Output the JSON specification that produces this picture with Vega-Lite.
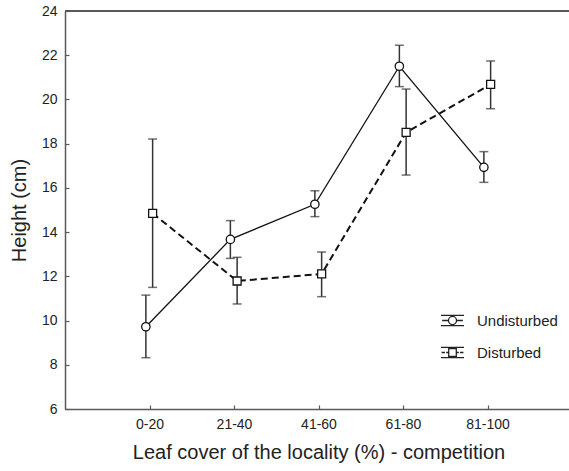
{
"$schema":"https://vega.github.io/schema/vega-lite/v6.json",
"width":504,"height":398,
"autosize":{"type":"none"},
"padding":{"left":65,"top":11,"right":0,"bottom":62},
"background":"white",
"config":{
 "view":{"stroke":null},
 "font":"Liberation Sans",
 "axis":{"grid":false,"domainColor":"#5a5a5a","domainWidth":1.5,"tickColor":"#5a5a5a","tickWidth":1.2,"labelColor":"#222","titleColor":"#222","labelFontSize":14,"titleFontSize":20,"titleFontWeight":"normal","labelFont":"Liberation Sans","titleFont":"Liberation Sans"},
 "legend":{"orient":"none","legendX":375,"legendY":297,"title":null,"symbolSize":530,"symbolStrokeColor":"#222","symbolStrokeWidth":1.3,"symbolOpacity":1,"labelFontSize":15,"labelOffset":12,"rowPadding":11,"padding":0,"labelColor":"#222","labelFont":"Liberation Sans"}
},
"data":{"values":[
 {"cat":"0-20","series":"Undisturbed","mean":9.72,"lo":8.32,"hi":11.15},
 {"cat":"21-40","series":"Undisturbed","mean":13.67,"lo":12.81,"hi":14.52},
 {"cat":"41-60","series":"Undisturbed","mean":15.26,"lo":14.70,"hi":15.87},
 {"cat":"61-80","series":"Undisturbed","mean":21.5,"lo":20.58,"hi":22.45},
 {"cat":"81-100","series":"Undisturbed","mean":16.93,"lo":16.25,"hi":17.64},
 {"cat":"0-20","series":"Disturbed","mean":14.85,"lo":11.5,"hi":18.21},
 {"cat":"21-40","series":"Disturbed","mean":11.79,"lo":10.75,"hi":12.86},
 {"cat":"41-60","series":"Disturbed","mean":12.11,"lo":11.08,"hi":13.1},
 {"cat":"61-80","series":"Disturbed","mean":18.51,"lo":16.58,"hi":20.47},
 {"cat":"81-100","series":"Disturbed","mean":20.68,"lo":19.58,"hi":21.74}
]},
"layer":[
 {"mark":{"type":"rule","color":"#5a5a5a","strokeWidth":1.5},
  "encoding":{"y":{"datum":24,"type":"quantitative"}}},
 {
  "encoding":{
   "x":{"field":"cat","type":"ordinal",
        "scale":{"type":"point","domain":["_a","0-20","21-40","41-60","61-80","81-100","_b"],"range":[0,507],"padding":0},
        "axis":{"values":["0-20","21-40","41-60","61-80","81-100"],"title":"Leaf cover of the locality (%) - competition","labelAngle":0,"tickSize":-4,"labelPadding":12,"titlePadding":11}},
   "xOffset":{"field":"series","type":"nominal","scale":{"domain":["Undisturbed","Disturbed"],"range":[-7,6.5]}}
  },
  "layer":[
   {"transform":[{"filter":"datum.series == 'Undisturbed'"}],
    "mark":{"type":"line","color":"#111","strokeWidth":1.3},
    "encoding":{"y":{"field":"mean","type":"quantitative","scale":{"domain":[6,24],"nice":false,"zero":false},
       "axis":{"values":[6,8,10,12,14,16,18,20,22,24],"title":"Height (cm)","tickSize":-4,"labelPadding":12,"titlePadding":12}}}},
   {"transform":[{"filter":"datum.series == 'Disturbed'"}],
    "mark":{"type":"line","color":"#111","strokeWidth":2,"strokeDash":[7,4]},
    "encoding":{"y":{"field":"mean","type":"quantitative"}}},
   {"mark":{"type":"rule","color":"#333","strokeWidth":1.5},
    "encoding":{"y":{"field":"lo","type":"quantitative"},"y2":{"field":"hi"}}},
   {"mark":{"type":"tick","color":"#333","thickness":1.5,"size":9},
    "encoding":{"y":{"field":"lo","type":"quantitative"}}},
   {"mark":{"type":"tick","color":"#333","thickness":1.5,"size":9},
    "encoding":{"y":{"field":"hi","type":"quantitative"}}},
   {"mark":{"type":"point","filled":false,"stroke":"#222","strokeWidth":1.3,"size":1},
    "encoding":{"y":{"field":"mean","type":"quantitative"},
      "shape":{"field":"series","type":"nominal","scale":{"domain":["Undisturbed","Disturbed"],
        "range":["M-1,-0.45H1M-1,0.45H1M-0.9,0H-0.35M0.35,0H0.9M0,-0.45V-0.35M0,0.35V0.45M0.35,0A0.35,0.35 0 1,1 -0.35,0A0.35,0.35 0 1,1 0.35,0Z",
                 "M-1,-0.45H1M-1,0.45H1M-0.95,0H-0.65M-0.55,0H-0.33M0.33,0H0.55M0.65,0H0.95M0,-0.45V-0.33M0,0.33V0.45M-0.33,-0.33H0.33V0.33H-0.33Z"]},
        "legend":{"symbolSize":530,"symbolOpacity":1,"symbolStrokeColor":"#222","symbolStrokeWidth":1.3}}}},
   {"transform":[{"filter":"datum.series == 'Undisturbed'"}],
    "mark":{"type":"point","shape":"circle","filled":true,"fill":"white","stroke":"#111","strokeWidth":1.3,"size":70,"opacity":1},
    "encoding":{"y":{"field":"mean","type":"quantitative"}}},
   {"transform":[{"filter":"datum.series == 'Disturbed'"}],
    "mark":{"type":"point","shape":"square","filled":true,"fill":"white","stroke":"#111","strokeWidth":1.3,"size":64,"opacity":1},
    "encoding":{"y":{"field":"mean","type":"quantitative"}}}
  ]
 }
]
}
